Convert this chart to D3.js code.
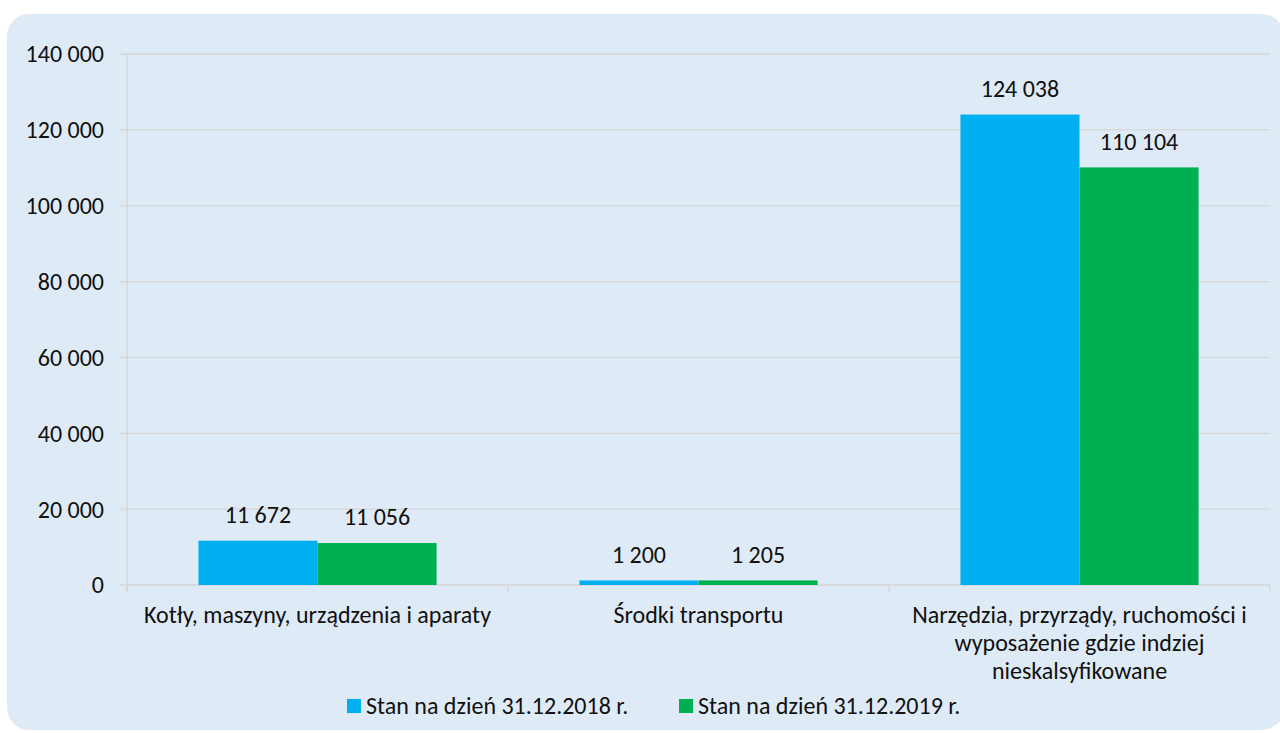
<!DOCTYPE html>
<html>
<head>
<meta charset="utf-8">
<script src="https://cdn.jsdelivr.net/npm/d3@7"></script>
<style>
  body { margin: 0; background: #fff; }
  text { font-family: Carlito, Calibri, "Open Sans", sans-serif; fill: #111; }
</style>
</head>
<body>
<svg id="chart" width="1280" height="733"></svg>
<script>
const categories = [
  ["Kotły, maszyny, urządzenia i aparaty"],
  ["Środki transportu"],
  ["Narzędzia, przyrządy, ruchomości i", "wyposażenie gdzie indziej", "nieskalsyfikowane"]
];
const seriesNames = ["Stan na dzień 31.12.2018 r.", "Stan na dzień 31.12.2019 r."];
const values2018 = [11672, 1200, 124038];
const values2019 = [11056, 1205, 110104];
const yTicks = [0, 20000, 40000, 60000, 80000, 100000, 120000, 140000];
const colors = ["#00B0F0", "#00B050"];

const FS = 24;
const svg = d3.select("#chart");

// rounded background panel
svg.append("rect")
  .attr("x", 7).attr("y", 14)
  .attr("width", 1277).attr("height", 716)
  .attr("rx", 22)
  .attr("fill", "#DEEAF6");

const x = d3.scaleBand()
  .domain(d3.range(categories.length))
  .range([127, 1270]);

const y = d3.scaleLinear()
  .domain([0, 140000])
  .range([585, 54]);

const fmt = v => d3.format(",")(v).replace(/,/g, " ");

// gridlines
svg.append("g").selectAll("line").data(yTicks).join("line")
  .attr("x1", 120).attr("x2", 1270)
  .attr("y1", d => y(d)).attr("y2", d => y(d))
  .attr("stroke", "#D6D6D6").attr("stroke-width", 1.3);

// y axis line
svg.append("line")
  .attr("x1", 127).attr("x2", 127)
  .attr("y1", y(140000)).attr("y2", y(0) + 7)
  .attr("stroke", "#D6D6D6").attr("stroke-width", 1.3);

// category ticks
svg.append("g").selectAll("line").data(d3.range(categories.length + 1)).join("line")
  .attr("x1", i => 127 + i * x.bandwidth())
  .attr("x2", i => 127 + i * x.bandwidth())
  .attr("y1", y(0)).attr("y2", y(0) + 7)
  .attr("stroke", "#D6D6D6").attr("stroke-width", 1.3);

// y tick labels
svg.append("g").selectAll("text").data(yTicks).join("text")
  .attr("x", 104).attr("y", d => y(d))
  .attr("dy", "0.35em")
  .attr("text-anchor", "end")
  .attr("font-size", FS)
  .text(fmt);

// bars
const bw = x.bandwidth() / 3.2;
const sub = d3.scaleBand().domain([0, 1]).range([x.bandwidth() / 2 - bw, x.bandwidth() / 2 + bw]);
const seriesData = [values2018, values2019];

seriesData.forEach((vals, s) => {
  const g = svg.append("g");
  g.selectAll("rect").data(vals).join("rect")
    .attr("x", (d, i) => x(i) + sub(s))
    .attr("y", d => y(d))
    .attr("width", sub.bandwidth())
    .attr("height", d => y(0) - y(d))
    .attr("fill", colors[s]);
  g.selectAll("text").data(vals).join("text")
    .attr("x", (d, i) => x(i) + sub(s) + sub.bandwidth() / 2)
    .attr("y", d => y(d) - 26)
    .attr("dy", "0.35em")
    .attr("text-anchor", "middle")
    .attr("font-size", FS)
    .text(fmt);
});

// category labels
const cat = svg.append("g").selectAll("text").data(categories).join("text")
  .attr("text-anchor", "middle")
  .attr("font-size", FS)
  .attr("transform", (d, i) => `translate(${x(i) + x.bandwidth() / 2},615)`);
cat.selectAll("tspan").data(d => d).join("tspan")
  .attr("x", 0)
  .attr("y", (d, j) => j * 28)
  .attr("dy", "0.35em")
  .text(d => d);

// legend
const legendX = [347, 679];
const lg = svg.append("g").selectAll("g").data(seriesNames).join("g")
  .attr("transform", (d, i) => `translate(${legendX[i]},706)`);
lg.append("rect").attr("x", 0).attr("y", -7).attr("width", 14).attr("height", 14)
  .attr("fill", (d, i) => colors[i]);
lg.append("text").attr("x", 19).attr("y", 0).attr("dy", "0.35em")
  .attr("font-size", FS).text(d => d);
</script>
</body>
</html>
